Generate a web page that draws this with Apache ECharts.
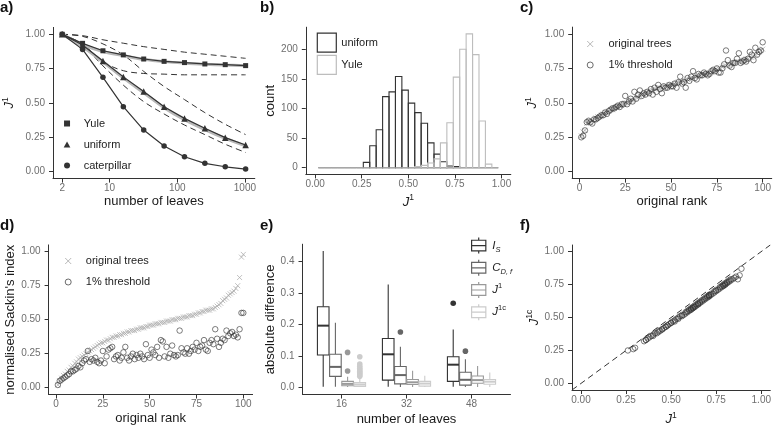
<!DOCTYPE html>
<html><head><meta charset="utf-8">
<script src="https://cdn.jsdelivr.net/npm/echarts@6/dist/echarts.min.js"></script>
<style>html,body{margin:0;padding:0;background:#fff}#c{width:774px;height:427px}</style>
</head><body><div id="c"></div>
<script>
// ---------- panel a ----------
const leafCounts = [2, 4, 8, 16, 32, 64, 128, 256, 512, 1024];
const yuleJ1 = [1.00, 0.934, 0.88, 0.85, 0.82, 0.803, 0.794, 0.784, 0.779, 0.772];
const uniformJ1 = [1.00, 0.922, 0.806, 0.69, 0.583, 0.473, 0.388, 0.316, 0.248, 0.194];
const caterpillarJ1 = [1.00, 0.89, 0.687, 0.473, 0.303, 0.187, 0.109, 0.061, 0.036, 0.019];
const yuleSmooth = [1.00, 0.925, 0.875, 0.845, 0.818, 0.801, 0.79, 0.782, 0.776, 0.771];
const uniformSmooth = [1.00, 0.91, 0.80, 0.683, 0.575, 0.466, 0.378, 0.306, 0.242, 0.188];
const yuleUpper = [1.00, 0.99, 0.96, 0.935, 0.91, 0.89, 0.87, 0.855, 0.84, 0.825];
const yuleLower = [1.00, 0.93, 0.80, 0.735, 0.715, 0.71, 0.705, 0.705, 0.705, 0.705];
const uniformUpper = [1.00, 0.985, 0.93, 0.85, 0.73, 0.62, 0.525, 0.43, 0.345, 0.27];
const uniformLower = [1.00, 0.92, 0.77, 0.63, 0.51, 0.42, 0.34, 0.27, 0.20, 0.14];
const leafTicks = [2, 10, 100, 1000];
const unitTicks = [0, 0.25, 0.5, 0.75, 1];

// ---------- panel b ----------
const histBinWidth = 1 / 29;
const uniformCounts = [0,0,0,0,0,0,0, 9,37,64,120,128,154,131,109,93,75,42,23,10,3,2, 0,0,0,0,0,0];
const yuleCounts = [0,0,0,0,0,0,0,0,0,0,0,0,0,0,0, 2,4,8,15,42,76,153,200,226,191,79,6, 0];
const countTicks = [0, 50, 100, 150, 200];

// ---------- panel c / f ----------
const cOriginal = [0.26,0.29,0.30,0.35,0.36,0.36,0.37,0.38,0.39,0.40,
 0.40,0.41,0.42,0.43,0.43,0.44,0.45,0.45,0.46,0.47,
 0.47,0.48,0.48,0.49,0.50,0.50,0.51,0.52,0.52,0.53,
 0.54,0.54,0.55,0.56,0.56,0.57,0.58,0.58,0.59,0.59,
 0.60,0.60,0.61,0.61,0.61,0.62,0.62,0.62,0.63,0.63,
 0.63,0.64,0.64,0.65,0.65,0.65,0.66,0.66,0.67,0.67,
 0.68,0.68,0.69,0.69,0.70,0.70,0.71,0.71,0.71,0.71,
 0.72,0.72,0.73,0.74,0.74,0.75,0.75,0.76,0.77,0.77,
 0.78,0.78,0.79,0.79,0.79,0.80,0.80,0.80,0.81,0.81,
 0.82,0.82,0.83,0.83,0.84,0.85,0.86,0.87,0.88,0.89];
const cThreshold = [0.25,0.26,0.30,0.36,0.37,0.36,0.35,0.38,0.38,0.39,
 0.40,0.41,0.41,0.43,0.42,0.44,0.45,0.46,0.46,0.47,
 0.48,0.47,0.49,0.49,0.55,0.49,0.51,0.53,0.51,0.58,
 0.53,0.56,0.59,0.55,0.57,0.56,0.58,0.57,0.60,0.56,
 0.61,0.58,0.63,0.60,0.57,0.62,0.61,0.61,0.63,0.62,
 0.62,0.64,0.61,0.65,0.69,0.64,0.65,0.61,0.68,0.66,
 0.69,0.73,0.68,0.67,0.71,0.70,0.70,0.72,0.71,0.70,
 0.71,0.73,0.74,0.73,0.75,0.72,0.72,0.75,0.78,0.88,
 0.81,0.77,0.76,0.79,0.79,0.82,0.86,0.79,0.80,0.81,
 0.80,0.82,0.87,0.85,0.81,0.90,0.85,0.87,0.88,0.94];
const fJ1c = [0.25,0.26,0.27,0.32,0.33,0.33,0.34,0.35,0.36,0.36,
 0.37,0.38,0.38,0.39,0.40,0.40,0.41,0.41,0.42,0.43,
 0.43,0.44,0.44,0.45,0.46,0.46,0.47,0.48,0.47,0.49,
 0.49,0.50,0.51,0.51,0.52,0.52,0.53,0.54,0.54,0.55,
 0.55,0.56,0.56,0.57,0.56,0.57,0.58,0.57,0.58,0.59,
 0.58,0.59,0.60,0.60,0.61,0.60,0.61,0.62,0.62,0.63,
 0.63,0.64,0.64,0.65,0.65,0.66,0.66,0.67,0.66,0.67,
 0.67,0.68,0.68,0.69,0.70,0.70,0.71,0.71,0.72,0.73,
 0.73,0.74,0.74,0.75,0.74,0.75,0.76,0.75,0.76,0.77,
 0.77,0.78,0.78,0.79,0.79,0.80,0.81,0.79,0.82,0.87];
const identityLine = [-0.05, 1.05];
const rankTicks = [0, 25, 50, 75, 100];

// ---------- panel d ----------
const dOriginal = [0.02,0.05,0.07,0.09,0.10,0.12,0.13,0.15,0.16,0.18,
 0.19,0.21,0.22,0.23,0.24,0.25,0.26,0.27,0.28,0.29,
 0.30,0.31,0.32,0.33,0.33,0.34,0.35,0.35,0.36,0.37,
 0.37,0.38,0.38,0.39,0.39,0.40,0.40,0.41,0.41,0.42,
 0.42,0.42,0.43,0.43,0.44,0.44,0.44,0.45,0.45,0.46,
 0.46,0.46,0.47,0.47,0.47,0.48,0.48,0.48,0.49,0.49,
 0.49,0.50,0.50,0.50,0.51,0.51,0.51,0.52,0.52,0.52,
 0.53,0.53,0.53,0.54,0.54,0.55,0.55,0.56,0.56,0.57,
 0.57,0.57,0.58,0.58,0.59,0.60,0.61,0.62,0.64,0.65,
 0.66,0.68,0.69,0.70,0.71,0.73,0.75,0.81,0.96,0.98];
const dThreshold = [0.02,0.05,0.06,0.07,0.08,0.09,0.10,0.12,0.12,0.13,
 0.14,0.16,0.15,0.18,0.20,0.21,0.27,0.19,0.21,0.20,
 0.22,0.19,0.18,0.20,0.27,0.18,0.23,0.28,0.29,0.30,
 0.21,0.23,0.24,0.20,0.22,0.26,0.30,0.22,0.20,0.23,
 0.25,0.21,0.24,0.22,0.25,0.23,0.21,0.32,0.24,0.22,
 0.28,0.26,0.24,0.30,0.22,0.35,0.34,0.23,0.30,0.22,
 0.25,0.31,0.24,0.23,0.24,0.42,0.29,0.26,0.25,0.29,
 0.25,0.27,0.30,0.28,0.33,0.27,0.30,0.31,0.35,0.28,
 0.27,0.33,0.35,0.32,0.43,0.36,0.30,0.33,0.36,0.35,
 0.42,0.38,0.40,0.41,0.38,0.39,0.37,0.43,0.55,0.55];

// ---------- panel e ----------
const leafGroups = ['16', '32', '48'];
// [group, lower whisker, Q1, median, Q3, upper whisker]
const boxIS = [[1,0.003,0.104,0.197,0.257,0.434],[2,0.003,0.024,0.106,0.156,0.328],[3,0.003,0.020,0.073,0.098,0.185]];
const boxCDf = [[1,0.003,0.036,0.066,0.106,0.206],[2,0.002,0.012,0.040,0.067,0.130],[3,0.002,0.008,0.025,0.049,0.090]];
const boxJ1 = [[1,0.002,0.006,0.012,0.020,0.035],[2,0.002,0.010,0.017,0.026,0.054],[3,0.002,0.014,0.024,0.037,0.069]];
const boxJ1c = [[1,0.002,0.004,0.010,0.016,0.030],[2,0.002,0.005,0.013,0.020,0.038],[3,0.002,0.011,0.019,0.026,0.048]];
const outIS = [[3,0.268]];
const outCDf = [[2,0.177],[3,0.116]];
const outJ1 = [[1,0.112],[1,0.053]];
const outJ1c = [[1,0.098],[1,0.075],[1,0.068],[1,0.062],[1,0.057],[1,0.052],[1,0.048],[1,0.044],[1,0.040],[1,0.036]];
const diffTicks = [0, 0.1, 0.2, 0.3, 0.4];

// ---------- styling / building ----------
const F = 'Liberation Sans';
const AXC = '#333333';
const LBL = '#6e6e6e';
const TTL = '#1a1a1a';
const DARK = '#333333';
const supRich = {
  j: {fontStyle: 'italic', fontSize: 13, fontFamily: F, color: TTL, lineHeight: 17},
  s: {fontSize: 8.5, fontFamily: F, color: TTL, verticalAlign: 'top', lineHeight: 17}
};
const f2 = v => Number(v).toFixed(2);
function axis(kind, gi, o) {
  const a = {
    gridIndex: gi, type: o.type || 'value', min: o.min, max: o.max,
    axisLine: {show: true, onZero: false, lineStyle: {color: AXC, width: 1}},
    axisTick: {show: true, length: 4, lineStyle: {color: AXC, width: 1}, customValues: o.ticks},
    axisLabel: {customValues: o.ticks, formatter: o.fmt, color: LBL, fontSize: 10, fontFamily: F, margin: kind === 'x' ? 5 : 8},
    splitLine: {show: false}, minorTick: {show: false},
    name: o.name, nameLocation: 'middle', nameGap: o.gap,
    nameTextStyle: {fontSize: 13, fontFamily: F, color: TTL, rich: o.rich}
  };
  if (o.type === 'log') a.logBase = 10;
  return a;
}
const grids = [
  {left: 52.5, top: 27.4, width: 202.3, height: 151.2},
  {left: 305.8, top: 27.2, width: 205, height: 147.2},
  {left: 572.2, top: 27.1, width: 200.9, height: 151.5},
  {left: 48.6, top: 244.9, width: 204, height: 149.6},
  {left: 302.5, top: 244.2, width: 208, height: 150.3},
  {left: 572, top: 245, width: 201, height: 145.6}
];
const xAxes = [
  axis('x', 0, {type: 'log', min: 1.464, max: 1398.6, ticks: leafTicks, fmt: v => String(Math.round(v)), name: 'number of leaves', gap: 16}),
  axis('x', 1, {min: -0.05, max: 1.05, ticks: unitTicks, fmt: f2, name: '{j|J}{s|1}', gap: 19, rich: supRich}),
  axis('x', 2, {min: -3.95, max: 104.95, ticks: rankTicks, fmt: v => String(v), name: 'original rank', gap: 15}),
  axis('x', 3, {min: -3.95, max: 104.95, ticks: rankTicks, fmt: v => String(v), name: 'original rank', gap: 17}),
  axis('x', 4, {min: 0.4, max: 3.6, ticks: [1, 2, 3], fmt: v => leafGroups[Math.round(v) - 1], name: 'number of leaves', gap: 18}),
  axis('x', 5, {min: -0.05, max: 1.05, ticks: unitTicks, fmt: f2, name: '{j|J}{s|1}', gap: 21, rich: supRich})
];
const yAxes = [
  axis('y', 0, {min: -0.05, max: 1.05, ticks: unitTicks, fmt: f2, name: '{j|J}{s|1}', gap: 35, rich: supRich}),
  axis('y', 1, {min: -11.3, max: 237.3, ticks: countTicks, fmt: v => String(v), name: 'count', gap: 27}),
  axis('y', 2, {min: -0.05, max: 1.05, ticks: unitTicks, fmt: f2, name: '{j|J}{s|1}', gap: 31, rich: supRich}),
  axis('y', 3, {min: -0.05, max: 1.05, ticks: unitTicks, fmt: f2, name: "normalised Sackin's index", gap: 30}),
  axis('y', 4, {min: -0.0217, max: 0.4557, ticks: diffTicks, fmt: v => Number(v).toFixed(1), name: 'absolute difference', gap: 25}),
  axis('y', 5, {min: -0.05, max: 1.05, ticks: unitTicks, fmt: f2, name: '{j|J}{s|1c}', gap: 29, rich: supRich})
];

const series = [];
const pair = (xs, ys) => xs.map((x, i) => [x, ys[i]]);
// panel a
[yuleUpper, yuleLower, uniformUpper, uniformLower].forEach(arr => series.push({
  type: 'line', xAxisIndex: 0, yAxisIndex: 0, data: pair(leafCounts, arr), smooth: 0.35, showSymbol: false,
  lineStyle: {color: DARK, width: 1, type: [6, 4]}, z: 2, silent: true
}));
[yuleSmooth, uniformSmooth].forEach(arr => series.push({
  type: 'line', xAxisIndex: 0, yAxisIndex: 0, data: pair(leafCounts, arr), smooth: 0.35, showSymbol: false,
  lineStyle: {color: '#b8b8b8', width: 3}, z: 3, silent: true
}));
[['Yule', yuleJ1, 'rect', 5], ['uniform', uniformJ1, 'triangle', 6.5], ['caterpillar', caterpillarJ1, 'circle', 5.5]].forEach(s => series.push({
  name: s[0], type: 'line', xAxisIndex: 0, yAxisIndex: 0, data: pair(leafCounts, s[1]), symbol: s[2], symbolSize: s[3],
  showSymbol: true, itemStyle: {color: DARK}, lineStyle: {color: DARK, width: 1.2}, z: 4
}));
// panel b
function histRender(color) {
  return function (params, api) {
    const x = api.value(0), c = api.value(1);
    const p0 = api.coord([x - histBinWidth / 2, c]);
    const p1 = api.coord([x + histBinWidth / 2, 0]);
    return {type: 'rect', shape: {x: p0[0], y: p0[1], width: p1[0] - p0[0], height: p1[1] - p0[1]},
      style: {fill: 'none', stroke: color, lineWidth: 1.1}};
  };
}
[['uniform', uniformCounts, DARK], ['Yule', yuleCounts, '#bdbdbd']].forEach(s => series.push({
  name: s[0], type: 'custom', xAxisIndex: 1, yAxisIndex: 1, clip: true,
  data: s[1].map((c, i) => [(i + 1) * histBinWidth, c]), renderItem: histRender(s[2])
}));
// panels c & d
const crossPath = 'path://M0,0L10,10M10,0L0,10';
const circPath = 'path://M5,0A5,5,0,1,1,5,10A5,5,0,1,1,5,0Z';
[[2, cOriginal, cThreshold], [3, dOriginal, dThreshold]].forEach(p => {
  series.push({name: 'original trees', type: 'scatter', xAxisIndex: p[0], yAxisIndex: p[0],
    data: p[1].map((v, i) => [i + 1, v]), symbol: crossPath, symbolSize: 5,
    itemStyle: {color: 'none', borderColor: '#a8a8a8', borderWidth: 0.9}, z: 2});
  series.push({name: '1% threshold', type: 'scatter', xAxisIndex: p[0], yAxisIndex: p[0],
    data: p[2].map((v, i) => [i + 1, v]), symbol: 'circle', symbolSize: 5.5,
    itemStyle: {color: 'rgba(0,0,0,0)', borderColor: DARK, borderWidth: 0.8}, z: 3});
});
// panel e
const BOX_W = 0.1875;
function boxRender(j, color) {
  const off = (j - 1.5) * BOX_W;
  return function (params, api) {
    const x = api.value(0) + off;
    const L = api.coord([x - BOX_W / 2, 0])[0] + 0.3, R = api.coord([x + BOX_W / 2, 0])[0] - 0.3, C = api.coord([x, 0])[0];
    const y = k => api.coord([x, api.value(k)])[1];
    const lo = y(1), q1 = y(2), md = y(3), q3 = y(4), hi = y(5);
    const ls = {stroke: color, lineWidth: 1.1};
    return {type: 'group', children: [
      {type: 'line', shape: {x1: C, y1: q3, x2: C, y2: hi}, style: ls},
      {type: 'line', shape: {x1: C, y1: q1, x2: C, y2: lo}, style: ls},
      {type: 'rect', shape: {x: L, y: q3, width: R - L, height: q1 - q3}, style: {fill: '#fff', stroke: color, lineWidth: 1.1}},
      {type: 'line', shape: {x1: L, y1: md, x2: R, y2: md}, style: {stroke: color, lineWidth: 2}}
    ]};
  };
}
function outRender(j, color) {
  const off = (j - 1.5) * BOX_W;
  return function (params, api) {
    const p = api.coord([api.value(0) + off, api.value(1)]);
    return {type: 'circle', shape: {cx: p[0], cy: p[1], r: 2.8}, style: {fill: color, stroke: null}};
  };
}
const boxDefs = [['IS', boxIS, outIS, '#333333'], ['CDf', boxCDf, outCDf, '#666666'], ['J1', boxJ1, outJ1, '#999999'], ['J1c', boxJ1c, outJ1c, '#cccccc']];
boxDefs.forEach((b, j) => {
  series.push({name: b[0], type: 'custom', xAxisIndex: 4, yAxisIndex: 4, data: b[1], renderItem: boxRender(j, b[3]), z: 2 + j});
  series.push({name: b[0], type: 'custom', xAxisIndex: 4, yAxisIndex: 4, data: b[2], renderItem: outRender(j, b[3]), z: 2 + j});
});
// panel f
series.push({type: 'line', xAxisIndex: 5, yAxisIndex: 5, data: pair(identityLine, identityLine), showSymbol: false,
  lineStyle: {color: DARK, width: 1, type: [6, 4]}, silent: true, z: 2});
series.push({name: 'J1c scatter', type: 'scatter', xAxisIndex: 5, yAxisIndex: 5, data: pair(cOriginal, fJ1c),
  symbol: 'circle', symbolSize: 5.5, itemStyle: {color: 'rgba(0,0,0,0)', borderColor: DARK, borderWidth: 0.8}, z: 3});

const legText = {fontSize: 11, fontFamily: F, color: '#222', lineHeight: 14};
const legends = [
  {left: 63.7, top: 116.5, padding: 0, orient: 'vertical', itemWidth: 23.2, itemHeight: 6, itemGap: 7, selectedMode: false, textStyle: legText,
    data: [
      {name: 'Yule', icon: 'path://M0,0H10V10H0Z', itemStyle: {color: DARK, borderWidth: 0}},
      {name: 'uniform', icon: 'path://M5,0L10,9L0,9Z', itemStyle: {color: DARK, borderWidth: 0}},
      {name: 'caterpillar', icon: circPath, itemStyle: {color: DARK, borderWidth: 0}}
    ]},
  {left: 316.7, top: 32.5, padding: 0, orient: 'vertical', itemWidth: 19, itemHeight: 19, itemGap: 2, selectedMode: false, textStyle: legText,
    data: [
      {name: 'uniform', icon: 'rect', itemStyle: {color: 'rgba(0,0,0,0)', borderColor: DARK, borderWidth: 1.2}},
      {name: 'Yule', icon: 'rect', itemStyle: {color: 'rgba(0,0,0,0)', borderColor: '#bdbdbd', borderWidth: 1.2}}
    ]},
  {left: 584.7, top: 37, padding: 0, orient: 'vertical', itemWidth: 26.6, itemHeight: 6, itemGap: 7, selectedMode: false, textStyle: legText,
    data: [
      {name: 'original trees', icon: crossPath, itemStyle: {color: 'none', borderColor: '#a8a8a8', borderWidth: 1}},
      {name: '1% threshold', icon: circPath, itemStyle: {color: 'none', borderColor: DARK, borderWidth: 0.9}}
    ]},
  {left: 62.7, top: 254, padding: 0, orient: 'vertical', itemWidth: 25.2, itemHeight: 6, itemGap: 7, selectedMode: false, textStyle: legText,
    data: [
      {name: 'original trees', icon: crossPath, itemStyle: {color: 'none', borderColor: '#a8a8a8', borderWidth: 1}},
      {name: '1% threshold', icon: circPath, itemStyle: {color: 'none', borderColor: DARK, borderWidth: 0.9}}
    ]},
  {left: 471, top: 237, padding: 0, orient: 'vertical', itemWidth: 17, itemHeight: 16, itemGap: 5, selectedMode: false,
    textStyle: Object.assign({}, legText, {rich: {
      i: {fontStyle: 'italic', fontSize: 11.5, fontFamily: F, color: '#222', lineHeight: 16},
      b: {fontStyle: 'italic', fontSize: 7.5, fontFamily: F, color: '#222', verticalAlign: 'bottom', lineHeight: 16},
      t: {fontSize: 7.5, fontFamily: F, color: '#222', verticalAlign: 'top', lineHeight: 16}
    }}),
    formatter: n => ({IS: '{i|I}{b|S}', CDf: '{i|C}{b|D, f}', J1: '{i|J}{t|1}', J1c: '{i|J}{t|1c}'})[n],
    data: boxDefs.map(b => ({name: b[0], icon: 'path://M8,0V3M0,3H16V15H0ZM0,9H16M8,15V18',
      itemStyle: {color: 'rgba(0,0,0,0)', borderColor: b[3], borderWidth: 1.2}}))}
];
const letters = ['a', 'b', 'c', 'd', 'e', 'f'];
const letterPos = [[0, 0], [260, 0], [520, 0], [0, 218], [260, 218], [520, 218]];
const titles = letters.map((t, i) => ({
  text: '{b|' + t + '}{p|)}', left: letterPos[i][0], top: letterPos[i][1], padding: 0,
  textStyle: {rich: {b: {fontWeight: 'bold', fontSize: 15, fontFamily: F, color: '#111'}, p: {fontSize: 15, fontFamily: F, color: '#111'}}}
}));

const chart = echarts.init(document.getElementById('c'), null, {renderer: 'canvas'});
chart.setOption({
  animation: false, backgroundColor: '#fff',
  textStyle: {fontFamily: F},
  title: titles, grid: grids, xAxis: xAxes, yAxis: yAxes, legend: legends, series: series
});
</script></body></html>
